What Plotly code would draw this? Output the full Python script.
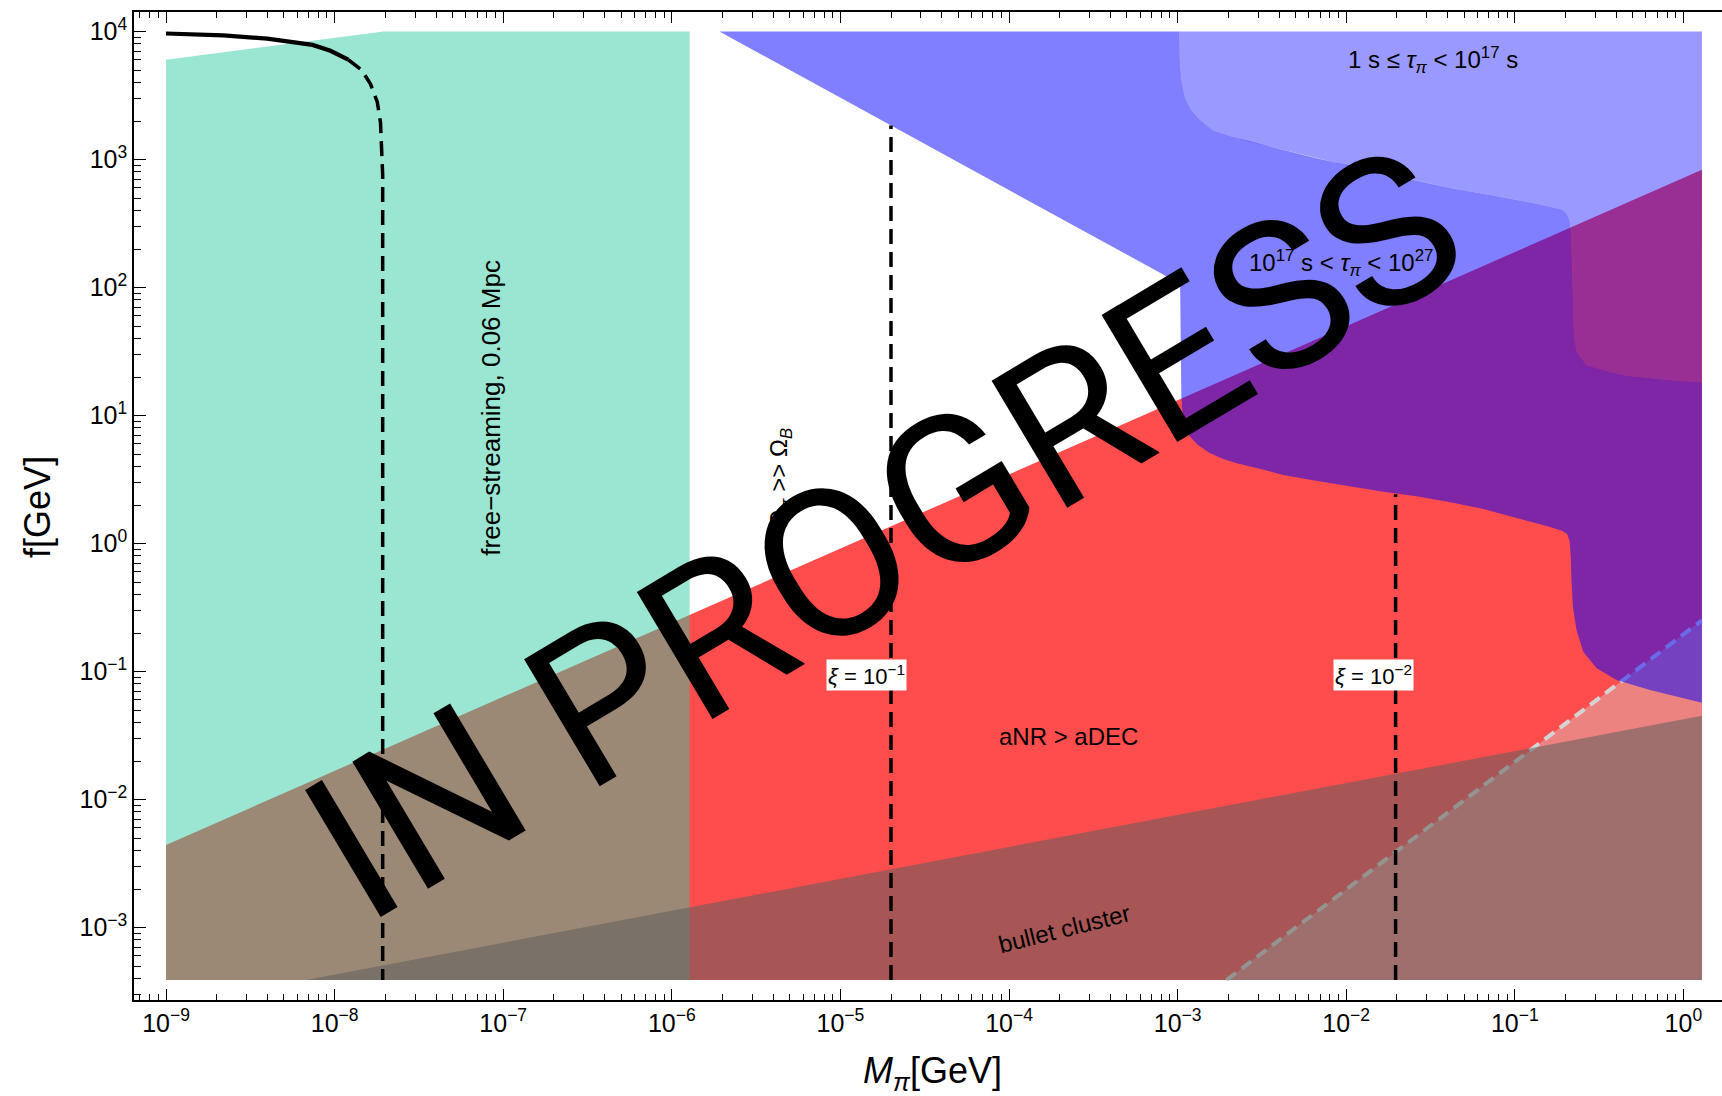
import numpy as np
import plotly.graph_objects as go

# ---- plotted window (log10 units) ----
LOGM_MIN, LOGM_MAX = -9.0, 0.11      # extent of the shaded data
LOGF_MIN, LOGF_MAX = -3.41, 4.0

# ---- boundaries, log10(M_pi / GeV) vs log10(f / GeV) ----
# aNR > aDEC (upper edge of the red region)
anr_logM = [-9.0, 0.11]
anr_logf = [-2.355, 2.92]

# bullet cluster bound (upper edge)
bullet_logM = [-8.17, 0.11]
bullet_logf = [-3.41, -1.345]

# light dashed line
gray_logM = [-2.71, 0.11]
gray_logf = [-3.41, -0.60]

# free-streaming region, upper edge
fs_logM = [-9.0, -7.71, -5.894]
fs_logf = [3.78, 4.0, 4.0]

# Omega_pi >> Omega_B edge
diag_logM = [-5.717, -2.985]
diag_logf = [4.0, 2.03]

# tau_pi = 10^27 s contour
tau27_logM = [-2.985, -2.978, -2.97, -2.955, -2.926, -2.88, -2.81, -2.73, -2.65, -2.50,
              -2.373, -2.18, -1.978, -1.78, -1.583, -1.39, -1.193, -1.0, -0.806, -0.72,
              -0.69, -0.675, -0.668, -0.664, -0.655, -0.634, -0.594, -0.515, -0.397,
              -0.198, 0.11]
tau27_logf = [2.03, 1.15, 1.0, 0.9, 0.835, 0.77, 0.708, 0.66, 0.627, 0.58,
              0.536, 0.49, 0.445, 0.405, 0.37, 0.325, 0.272, 0.205, 0.135, 0.10,
              0.075, 0.02, -0.1, -0.284, -0.5, -0.675, -0.845, -0.974, -1.066,
              -1.144, -1.243]

# tau_pi = 10^17 s contour
tau17_logM = [-2.99, -2.986, -2.975, -2.955, -2.92, -2.867, -2.79, -2.68, -2.571, -2.37,
              -2.175, -1.98, -1.782, -1.58, -1.384, -1.088, -0.85, -0.72, -0.69, -0.675,
              -0.665, -0.66, -0.655, -0.648, -0.63, -0.574, -0.46, -0.342, -0.1, 0.11]
tau17_logf = [4.0, 3.75, 3.6, 3.48, 3.39, 3.31, 3.23, 3.18, 3.14, 3.075,
              3.01, 2.95, 2.895, 2.835, 2.778, 2.71, 2.65, 2.61, 2.575, 2.53,
              2.42, 2.2, 1.9, 1.6, 1.49, 1.395, 1.35, 1.314, 1.28, 1.26]

# black free-streaming curve: solid part, then dashed part
fsc_solid_logM = [-9.0, -8.66, -8.40, -8.263, -8.131, -8.025, -7.919]
fsc_solid_logf = [3.985, 3.97, 3.945, 3.923, 3.896, 3.85, 3.78]
fsc_dash_logM = [-7.919, -7.84, -7.787, -7.747, -7.728, -7.72, -7.715, -7.715]
fsc_dash_logf = [3.78, 3.70, 3.59, 3.45, 3.29, 3.10, 2.88, -3.41]

# xi contours (vertical dashed lines): position and upper end
xi_logM = [-4.70, -1.707]
xi_top_logf = [3.266, 0.385]
xi_labels = ["<i>ξ</i> = 10<sup>−1</sup>", "<i>ξ</i> = 10<sup>−2</sup>"]
xi_label_logM = [-4.848, -1.841]
xi_label_logf = [-1.027, -1.027]

# axis ticks
x_decades = list(range(-9, 1))
y_decades = list(range(-3, 5))
x_ticktext = ["10<sup>%s</sup>" % (str(d).replace("-", "−")) for d in x_decades]
y_ticktext = ["10<sup>%s</sup>" % (str(d).replace("-", "−")) for d in y_decades]

FONT = "Liberation Sans, Arial, sans-serif"


def P(v):
    return np.power(10.0, np.asarray(v, dtype=float))


fig = go.Figure()


def region(lm, lf, color):
    fig.add_trace(go.Scatter(x=P(lm), y=P(lf), mode="lines", fill="toself",
                             fillcolor=color, line=dict(width=0, color=color),
                             hoverinfo="skip"))


# red: aNR > aDEC
region([LOGM_MIN, LOGM_MIN, LOGM_MAX, LOGM_MAX],
       [LOGF_MIN, anr_logf[0], anr_logf[1], LOGF_MIN], "rgb(255,77,77)")

# lighter corner below the light dashed line
region([gray_logM[0], gray_logM[1], LOGM_MAX],
       [LOGF_MIN, gray_logf[1], LOGF_MIN], "rgb(237,131,128)")

# free streaming
region([LOGM_MIN] + fs_logM + [fs_logM[-1]],
       [LOGF_MIN] + fs_logf + [LOGF_MIN], "rgba(45,203,161,0.48)")

# light dashed line
fig.add_trace(go.Scatter(x=P(gray_logM), y=P(gray_logf), mode="lines",
                         line=dict(color="rgb(212,212,212)", width=4, dash="12px,7px"),
                         hoverinfo="skip"))

# bullet cluster
region([bullet_logM[0], bullet_logM[1], LOGM_MAX],
       [LOGF_MIN, bullet_logf[1], LOGF_MIN], "rgba(95,95,92,0.55)")

# 10^17 s < tau < 10^27 s
band_M = diag_logM + tau27_logM[1:] + [LOGM_MAX] + tau17_logM[::-1]
band_f = diag_logf + tau27_logf[1:] + [tau17_logf[-1]] + tau17_logf[::-1]
region(band_M, band_f, "rgba(0,0,255,0.5)")

# 1 s <= tau < 10^17 s
region(tau17_logM + [LOGM_MAX], tau17_logf + [LOGF_MAX], "rgba(0,0,255,0.4)")

# black curves
fig.add_trace(go.Scatter(x=P(fsc_solid_logM), y=P(fsc_solid_logf), mode="lines",
                         line=dict(color="black", width=4.2), hoverinfo="skip"))
fig.add_trace(go.Scatter(x=P(fsc_dash_logM), y=P(fsc_dash_logf), mode="lines",
                         line=dict(color="black", width=3.5, dash="15px,8px"),
                         hoverinfo="skip"))
for lm, top in zip(xi_logM, xi_top_logf):
    fig.add_trace(go.Scatter(x=P([lm, lm]), y=P([LOGF_MIN, top]), mode="lines",
                             line=dict(color="black", width=3.5, dash="15px,8px"),
                             hoverinfo="skip"))

ann = []


def label(text, lm, lf, size=24, angle=0, **kw):
    d = dict(text=text, x=lm, y=lf, xref="x", yref="y", showarrow=False,
             textangle=angle, font=dict(family=FONT, size=size, color="black"),
             xanchor="center", yanchor="middle")
    d.update(kw)
    ann.append(d)


label("free−streaming, 0.06 Mpc", -7.078, 1.0625, size=26, angle=-90)
label("Ω<sub><i>π</i></sub> >> Ω<sub><i>B</i></sub>", -5.358, 0.516, angle=-90)
label("aNR > aDEC", -3.65, -1.511)
label("bullet cluster", -3.668, -3.011, angle=-14)
label("1 s ≤ <i>τ</i><sub><i>π</i></sub> < 10<sup>17</sup> s", -1.487, 3.78)
label("10<sup>17</sup> s < <i>τ</i><sub><i>π</i></sub> < 10<sup>27</sup> s", -1.977, 2.19)
for t, lm, lf in zip(xi_labels, xi_label_logM, xi_label_logf):
    label(t, lm, lf, size=22, bgcolor="white", borderpad=1)

# watermark
label("IN PROGRESS", -4.74, 0.075, angle=-30.8,
      font=dict(family="Roboto, sans-serif", size=208, color="black"))

# axis titles
ann.append(dict(text="<i>M</i><sub><i>π</i></sub>[GeV]", x=0.503, y=-0.074,
                xref="paper", yref="paper", showarrow=False,
                xanchor="center", yanchor="middle",
                font=dict(family=FONT, size=36, color="black")))
ann.append(dict(text="f[GeV]", x=-0.0605, y=0.499, xref="paper", yref="paper",
                showarrow=False, textangle=-90, xanchor="center", yanchor="middle",
                font=dict(family=FONT, size=36, color="black")))

minor_x = [m * 10.0 ** d for d in range(-10, 1) for m in range(2, 10)]
minor_y = [m * 10.0 ** d for d in range(-4, 4) for m in range(2, 10)]

fig.update_layout(
    width=1722, height=1096,
    margin=dict(l=134, r=0, t=12, b=96),
    plot_bgcolor="white", paper_bgcolor="white",
    showlegend=False,
    annotations=ann,
    xaxis=dict(type="log", range=[-9.19, 0.229],
               tickvals=list(P(x_decades)), ticktext=x_ticktext,
               ticks="inside", ticklen=11, tickwidth=1.3, tickcolor="black",
               showline=True, linecolor="black", linewidth=1.5, mirror="ticks",
               showgrid=False, zeroline=False,
               tickfont=dict(family=FONT, size=25, color="black"),
               minor=dict(tickvals=minor_x, ticks="inside", ticklen=6,
                          tickwidth=1.1, tickcolor="black", showgrid=False)),
    yaxis=dict(type="log", range=[-3.566, 4.153],
               tickvals=list(P(y_decades)), ticktext=y_ticktext,
               ticks="inside", ticklen=12, tickwidth=1.3, tickcolor="black",
               showline=True, linecolor="black", linewidth=1.5, mirror=False,
               showgrid=False, zeroline=False,
               tickfont=dict(family=FONT, size=25, color="black"),
               minor=dict(tickvals=minor_y, ticks="inside", ticklen=7,
                          tickwidth=1.1, tickcolor="black", showgrid=False)),
)

fig.write_html("out.html")
